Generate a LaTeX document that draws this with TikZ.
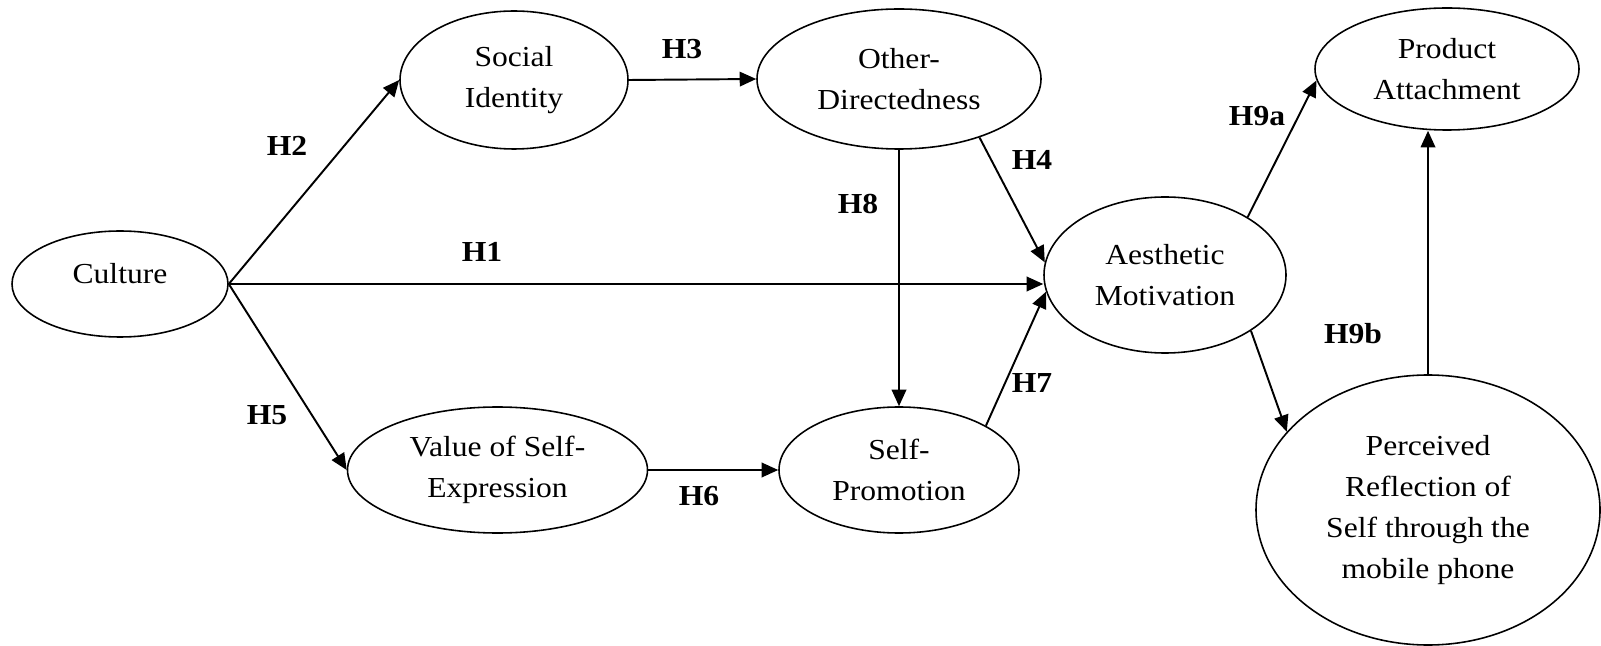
\documentclass[tikz,border=0pt]{standalone}
\usepackage{fontspec}
\setmainfont{Liberation Serif}[FakeStretch=1.09]
\usetikzlibrary{shapes.geometric,arrows.meta}

\begin{document}
\begin{tikzpicture}[
    constructo/.style={draw, ellipse, line width=0.9pt, inner sep=0pt, align=center,
        font=\fontsize{16.5}{23.5}\selectfont},
    hipotesis/.style={font=\fontsize{16.5}{22}\selectfont\bfseries, inner sep=0pt},
    flecha/.style={line width=1.1pt, -{Triangle[length=3.3mm,width=2.9mm]}}
]
    \useasboundingbox (0,0) rectangle (32.02,12.90);

    % Constructos del modelo
    \node[constructo, minimum width=4.32cm, minimum height=2.12cm, text height=0.4cm, text depth=0.4cm] (cultura) at (2.40,7.22) {Culture};
    \node[constructo, minimum width=4.56cm, minimum height=2.76cm] (social) at (10.28,11.30) {Social\\Identity};
    \node[constructo, minimum width=5.68cm, minimum height=2.80cm] (otros) at (17.98,11.32) {Other-\\Directedness};
    \node[constructo, minimum width=6.00cm, minimum height=2.52cm] (valor) at (9.95,3.50) {Value of Self-\\Expression};
    \node[constructo, minimum width=4.80cm, minimum height=2.52cm] (promocion) at (17.98,3.50) {Self-\\Promotion};
    \node[constructo, minimum width=4.84cm, minimum height=3.12cm] (estetica) at (23.30,7.40) {Aesthetic\\Motivation};
    \node[constructo, minimum width=5.28cm, minimum height=2.44cm] (apego) at (28.94,11.52) {Product\\Attachment};
    \node[constructo, minimum width=6.88cm, minimum height=5.40cm] (reflejo) at (28.56,2.70)
        {Perceived\\Reflection of\\Self through the\\mobile phone};

    % Relaciones
    \draw[flecha] (cultura.east) -- (social.west);
    \draw[flecha] (cultura.east) -- (cultura.east -| estetica.west);
    \draw[flecha] (cultura.east) -- (valor.west);
    \draw[flecha] (social.east) -- (otros.west);
    \draw[flecha] (valor.east) -- (promocion.west);
    \draw[flecha] (otros.south) -- (promocion.north);
    \draw[flecha] (otros.-36) -- (estetica.174);
    \draw[flecha] (promocion.27) -- (estetica.188);
    \draw[flecha] (estetica.35) -- (apego.185);
    \draw[flecha] (estetica.-33) -- (reflejo.151);
    \draw[flecha] (reflejo.north) -- (reflejo.north |- apego.south);

    % Hipotesis
    \node[hipotesis] (h1) at (9.64,7.86) {H1};
    \node[hipotesis] (h2) at (5.74,9.98) {H2};
    \node[hipotesis] (h3) at (13.64,11.92) {H3};
    \node[hipotesis] (h4) at (20.64,9.70) {H4};
    \node[hipotesis] (h5) at (5.34,4.60) {H5};
    \node[hipotesis] (h6) at (13.98,2.98) {H6};
    \node[hipotesis] (h7) at (20.64,5.24) {H7};
    \node[hipotesis] (h8) at (17.16,8.82) {H8};
    \node[hipotesis] (h9a) at (25.14,10.58) {H9a};
    \node[hipotesis] (h9b) at (27.06,6.22) {H9b};
\end{tikzpicture}
\end{document}
